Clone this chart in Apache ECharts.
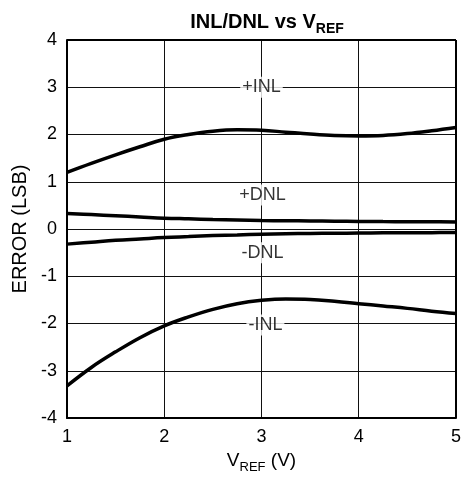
<!DOCTYPE html>
<html>
<head>
<meta charset="utf-8">
<script src="https://cdn.jsdelivr.net/npm/echarts@6/dist/echarts.min.js"></script>
<style>html,body{margin:0;padding:0;background:#fff}#c{width:464px;height:487px}</style>
</head>
<body>
<div id="c"></div>
<script>
var vref = [1, 1.25, 1.5, 1.75, 2, 2.25, 2.5, 2.75, 3, 3.25, 3.5, 3.75, 4, 4.25, 4.5, 4.75, 5];
var plusINL  = [1.2, 1.39, 1.57, 1.74, 1.9, 2.0, 2.07, 2.1, 2.09, 2.05, 2.01, 1.98, 1.97, 1.98, 2.02, 2.08, 2.15];
var minusINL = [-3.32, -2.93, -2.6, -2.3, -2.05, -1.86, -1.7, -1.58, -1.51, -1.48, -1.49, -1.53, -1.58, -1.63, -1.68, -1.74, -1.79];
var plusDNL  = [0.33, 0.305, 0.28, 0.255, 0.23, 0.215, 0.2, 0.19, 0.18, 0.175, 0.17, 0.165, 0.16, 0.157, 0.155, 0.152, 0.15];
var minusDNL = [-0.32, -0.28, -0.24, -0.21, -0.18, -0.16, -0.14, -0.125, -0.11, -0.1, -0.095, -0.09, -0.085, -0.082, -0.08, -0.077, -0.075];
var annNames = ['+INL', '+DNL', '-DNL', '-INL'];
var annX = [3, 3.01, 3.01, 3.04];
var annY = [3, 0.72, -0.5, -2.03];
var xTicks = [1, 2, 3, 4, 5];
var yTicks = [-4, -3, -2, -1, 0, 1, 2, 3, 4];

function pairs(ys) { return vref.map(function (x, i) { return [x, ys[i]]; }); }
var font = 'Liberation Sans, Arial, sans-serif';
function lineSeries(name, ys) {
  return { name: name, type: 'line', data: pairs(ys), smooth: 0.4, showSymbol: false, symbol: 'none',
    lineStyle: { color: '#000', width: 3.5 }, z: 3 };
}
var chart = echarts.init(document.getElementById('c'), null, { renderer: 'canvas' });
chart.setOption({
  animation: false,
  backgroundColor: '#fff',
  title: {
    text: '{a|INL/DNL vs V}{b|REF}',
    left: 262, top: 3, textAlign: 'center',
    textStyle: {
      rich: {
        a: { fontFamily: font, fontWeight: 'bold', fontSize: 20, color: '#000', lineHeight: 24, verticalAlign: 'bottom' },
        b: { fontFamily: font, fontWeight: 'bold', fontSize: 14, color: '#000', lineHeight: 16, verticalAlign: 'bottom', padding: [0, 0, -4, 0] }
      }
    }
  },
  grid: { left: 67, right: 8, top: 40, bottom: 69 },
  xAxis: {
    type: 'value', min: xTicks[0], max: xTicks[xTicks.length - 1], interval: 1,
    name: '{a|V}{b|REF}{a| (V)}', nameLocation: 'middle', nameGap: 27,
    nameTextStyle: {
      rich: {
        a: { fontFamily: font, fontSize: 19, color: '#000', verticalAlign: 'bottom', lineHeight: 22 },
        b: { fontFamily: font, fontSize: 13, color: '#000', verticalAlign: 'bottom', lineHeight: 15, padding: [0, 0, -4, 0] }
      }
    },
    axisLine: { show: true, onZero: false, lineStyle: { color: '#000', width: 2 } },
    axisTick: { show: false },
    axisLabel: { fontFamily: font, fontSize: 18, color: '#000', margin: 10 },
    splitLine: { show: true, lineStyle: { color: '#111', width: 1 } }
  },
  yAxis: {
    type: 'value', min: yTicks[0], max: yTicks[yTicks.length - 1], interval: 1,
    name: 'ERROR (LSB)', nameLocation: 'middle', nameGap: 37, nameRotate: 90,
    nameTextStyle: { fontFamily: font, fontSize: 20, color: '#000' },
    axisLine: { show: true, onZero: false, lineStyle: { color: '#000', width: 2 } },
    axisTick: { show: false },
    axisLabel: { fontFamily: font, fontSize: 18, color: '#000', margin: 10 },
    splitLine: { show: true, lineStyle: { color: '#111', width: 1 } }
  },
  series: [
    lineSeries('+INL', plusINL),
    lineSeries('-INL', minusINL),
    lineSeries('+DNL', plusDNL),
    lineSeries('-DNL', minusDNL),
    {
      type: 'scatter', symbolSize: 0, z: 5,
      data: annNames.map(function (n, i) { return { value: [annX[i], annY[i]], name: n }; }),
      label: {
        show: true, position: 'inside', formatter: function (p) { return p.name; },
        fontFamily: font, fontSize: 18, color: '#000', backgroundColor: '#fff', padding: [2, 2, 1, 2]
      }
    },
    {
      type: 'line', data: [], markLine: { silent: true, symbol: 'none', label: { show: false },
        lineStyle: { color: '#000', width: 2, type: 'solid' },
        data: [[{ coord: [5, -4] }, { coord: [5, 4] }], [{ coord: [1, 4] }, { coord: [5, 4] }]] }
    }
  ]
});
</script>
</body>
</html>
